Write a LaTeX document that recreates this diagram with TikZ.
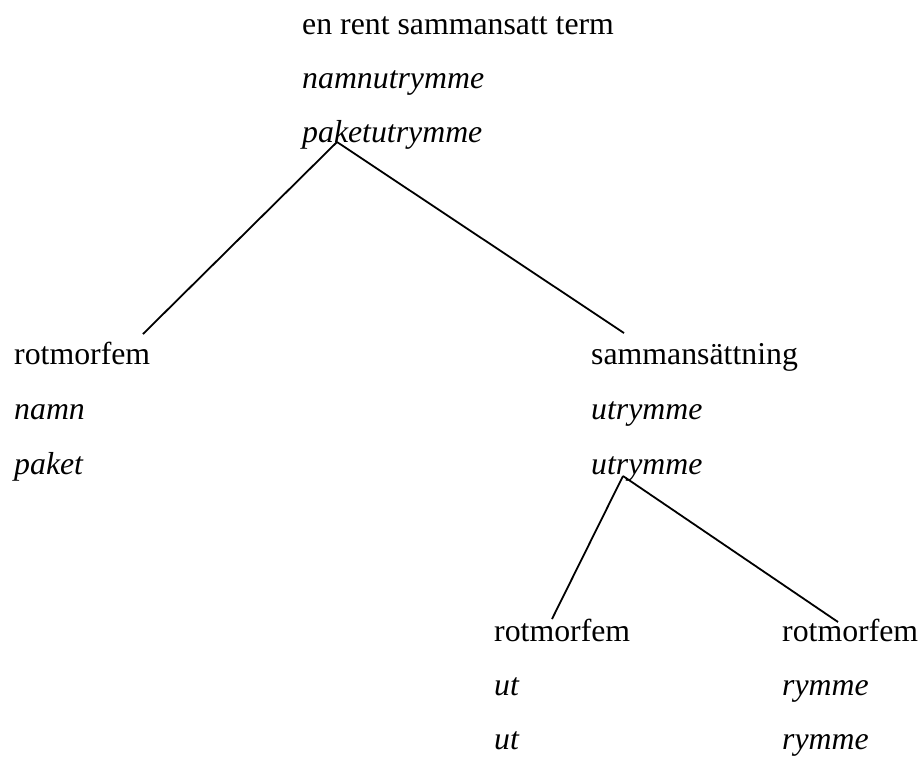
\documentclass[tikz,border=0pt]{standalone}
\usepackage{fontspec}
\setmainfont{Liberation Serif}
\begin{document}
\begin{tikzpicture}[x=1pt,y=-1pt,
  lbl/.style={anchor=base west,inner sep=0pt,font=\fontsize{31.8}{38}\selectfont},
  ilbl/.style={lbl,font=\fontsize{31.8}{38}\selectfont\itshape},
  edge/.style={line width=1.8pt}]
\useasboundingbox (0,0) rectangle (920,756);
% top
\node[lbl]  (t1) at (302,34)  {en rent sammansatt term};
\node[ilbl] (t2) at (302,88)  {namnutrymme};
\node[ilbl] (t3) at (302,142) {paketutrymme};
% left
\node[lbl]  (l1) at (14,364) {rotmorfem};
\node[ilbl] (l2) at (14,419) {namn};
\node[ilbl] (l3) at (14,474) {paket};
% right
\node[lbl]  (r1) at (591,364) {sammansättning};
\node[ilbl] (r2) at (591,419) {utrymme};
\node[ilbl] (r3) at (591,474) {utrymme};
% bottom left
\node[lbl]  (a1) at (494,641) {rotmorfem};
\node[ilbl] (a2) at (494,695) {ut};
\node[ilbl] (a3) at (494,749) {ut};
% bottom right
\node[lbl]  (b1) at (782,641) {rotmorfem};
\node[ilbl] (b2) at (782,695) {rymme};
\node[ilbl] (b3) at (782,749) {rymme};
% connector end points
\coordinate (top) at (337,142);
\coordinate (lt) at (143,334);
\coordinate (rt) at (624,333);
\coordinate (sub) at (623,476);
\coordinate (at) at (552,619);
\coordinate (bt) at (838,622);
\draw[edge] (top) -- (lt);
\draw[edge] (top) -- (rt);
\draw[edge] (sub) -- (at);
\draw[edge] (sub) -- (bt);
\end{tikzpicture}
\end{document}
